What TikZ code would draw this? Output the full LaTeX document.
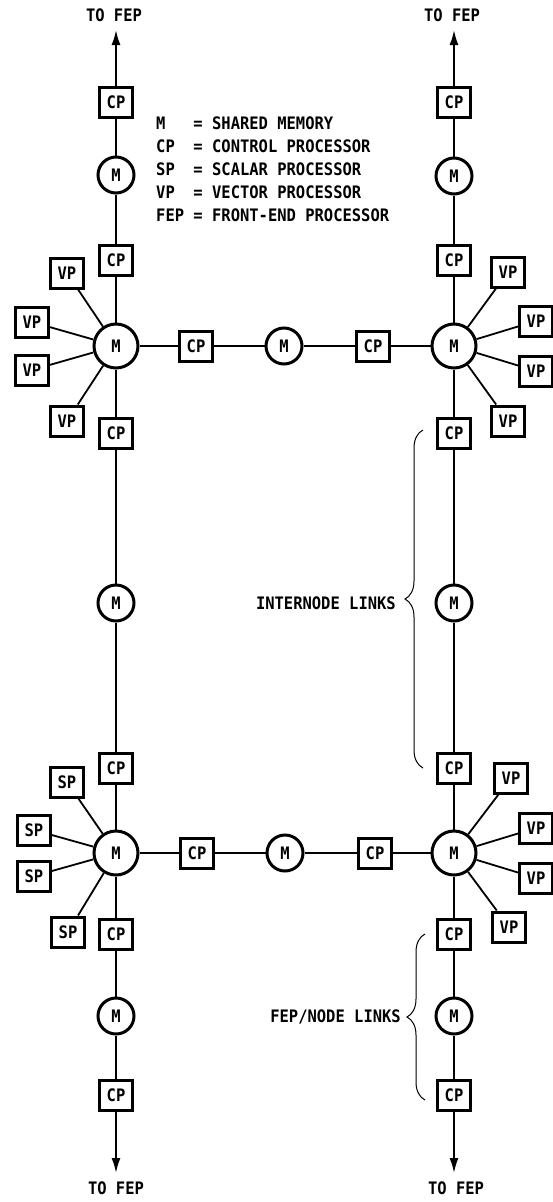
\documentclass[tikz,border=0pt]{standalone}
\usepackage{fontspec}
\setmainfont{DejaVu Sans Mono}[FakeStretch=0.9]
\usetikzlibrary{arrows.meta,decorations.pathreplacing}
\begin{document}
\begin{tikzpicture}[x=1pt,y=-1pt,
  every node/.style={font=\fontsize{17.2}{22.8}\selectfont\bfseries},
  box/.style={draw, line width=3pt, minimum width=33pt, minimum height=30pt, inner sep=0pt},
  mem/.style={circle, draw, line width=3pt, minimum size=36pt, inner sep=0pt},
  bigmem/.style={mem, minimum size=44pt},
  link/.style={line width=1.8pt},
  tofep/.style={link, -{Latex[length=15pt,width=9pt]}},
  lbl/.style={inner sep=0pt},
  brc/.style={decorate, decoration={brace, amplitude=18pt}, line width=1pt}]
\path[use as bounding box] (0,0) rectangle (553,1202);

% ---------- top-left column
\node[lbl] (tfTL) at (114,15) {TO FEP};
\coordinate (tipTL) at (116,30);
\node[box] (cpTL1) at (116,102) {CP};
\node[mem] (mTL1) at (116,175) {M};
\node[box] (cpTL2) at (116,260) {CP};
\node[bigmem] (MTL) at (116,346) {M};
\node[box] (cpTL3) at (116,433) {CP};
\node[box] (vpTL1) at (67,273) {VP};
\node[box] (vpTL2) at (32,322) {VP};
\node[box] (vpTL3) at (32,370) {VP};
\node[box] (vpTL4) at (67,421) {VP};

% ---------- top horizontal
\node[box] (cpTh1) at (196,346) {CP};
\node[mem] (mTh) at (284,346) {M};
\node[box] (cpTh2) at (373,346) {CP};

% ---------- top-right column
\node[lbl] (tfTR) at (452,15) {TO FEP};
\coordinate (tipTR) at (454,30);
\node[box] (cpTR1) at (454,102) {CP};
\node[mem] (mTR1) at (454,176) {M};
\node[box] (cpTR2) at (454,260) {CP};
\node[bigmem] (MTR) at (454,346) {M};
\node[box] (cpTR3) at (454,433) {CP};
\node[box] (vpTR1) at (508,272) {VP};
\node[box] (vpTR2) at (536,321) {VP};
\node[box] (vpTR3) at (536,371) {VP};
\node[box] (vpTR4) at (508,421) {VP};

% ---------- middle
\node[mem] (mML) at (116,603) {M};
\node[mem] (mMR) at (454,603) {M};

% ---------- bottom-left column
\node[box] (cpBL1) at (116,768) {CP};
\node[bigmem] (MBL) at (116,853) {M};
\node[box] (cpBL2) at (116,934) {CP};
\node[mem] (mBL) at (116,1016) {M};
\node[box] (cpBL3) at (116,1095) {CP};
\coordinate (tipBL) at (116,1173);
\node[lbl] (tfBL) at (116,1188) {TO FEP};
\node[box] (spBL1) at (67,782) {SP};
\node[box] (spBL2) at (34,830) {SP};
\node[box] (spBL3) at (34,876) {SP};
\node[box] (spBL4) at (68,932) {SP};

% ---------- bottom horizontal
\node[box] (cpBh1) at (197,853) {CP};
\node[mem] (mBh) at (285,853) {M};
\node[box] (cpBh2) at (375,853) {CP};

% ---------- bottom-right column
\node[box] (cpBR1) at (454,768) {CP};
\node[bigmem] (MBR) at (454,853) {M};
\node[box] (cpBR2) at (454,934) {CP};
\node[mem] (mBR) at (454,1016) {M};
\node[box] (cpBR3) at (454,1095) {CP};
\coordinate (tipBR) at (454,1173);
\node[lbl] (tfBR) at (456,1188) {TO FEP};
\node[box] (vpBR1) at (511,778) {VP};
\node[box] (vpBR2) at (536,828) {VP};
\node[box] (vpBR3) at (536,878) {VP};
\node[box] (vpBR4) at (509,927) {VP};

% ---------- legend
\node[lbl, anchor=north west, align=left] (legend) at (156,117)
  {M~~~= SHARED MEMORY\\CP~~= CONTROL PROCESSOR\\SP~~= SCALAR PROCESSOR\\VP~~= VECTOR PROCESSOR\\FEP = FRONT-END PROCESSOR};

% ---------- connectors
\draw[tofep] (cpTL1) -- (tipTL);
\draw[tofep] (cpTR1) -- (tipTR);
\draw[tofep] (cpBL3) -- (tipBL);
\draw[tofep] (cpBR3) -- (tipBR);
\draw[link] (cpTL1) -- (mTL1) -- (cpTL2) -- (MTL) -- (cpTL3) -- (mML) -- (cpBL1) -- (MBL) -- (cpBL2) -- (mBL) -- (cpBL3);
\draw[link] (cpTR1) -- (mTR1) -- (cpTR2) -- (MTR) -- (cpTR3) -- (mMR) -- (cpBR1) -- (MBR) -- (cpBR2) -- (mBR) -- (cpBR3);
\draw[link] (MTL) -- (cpTh1) -- (mTh) -- (cpTh2) -- (MTR);
\draw[link] (MBL) -- (cpBh1) -- (mBh) -- (cpBh2) -- (MBR);
\foreach \s in {vpTL1,vpTL2,vpTL3,vpTL4} \draw[link] (\s) -- (MTL);
\foreach \s in {vpTR1,vpTR2,vpTR3,vpTR4} \draw[link] (\s) -- (MTR);
\foreach \s in {spBL1,spBL2,spBL3,spBL4} \draw[link] (\s) -- (MBL);
\foreach \s in {vpBR1,vpBR2,vpBR3,vpBR4} \draw[link] (\s) -- (MBR);

% ---------- braces
\coordinate (b1top) at (423,430);
\coordinate (b1bot) at (423,768);
\draw[brc] (b1bot) -- (b1top);
\node[lbl, anchor=east] (intl) at (396,603) {INTERNODE LINKS};
\coordinate (b2top) at (425,934);
\coordinate (b2bot) at (425,1100);
\draw[brc] (b2bot) -- (b2top);
\node[lbl, anchor=east] (fepl) at (401,1017) {FEP/NODE LINKS};
\end{tikzpicture}
\end{document}
